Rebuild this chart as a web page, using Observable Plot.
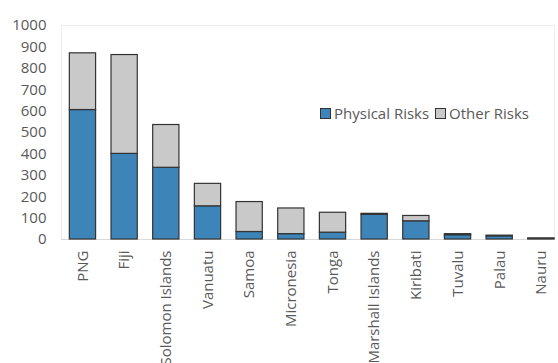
<!DOCTYPE html>
<html>
<head>
<meta charset="utf-8">
<script src="https://cdn.jsdelivr.net/npm/d3@7"></script>
<script src="https://cdn.jsdelivr.net/npm/@observablehq/plot@0.6"></script>
<style>
  html, body { margin: 0; padding: 0; background: #fff; }
  #chart { position: relative; width: 558px; height: 363px; overflow: hidden; font-family: "Open Sans", sans-serif; }
  #chart svg { display: block; }
  .legend { position: absolute; left: 320px; top: 103px; display: flex; align-items: center; font-size: 15px; color: #595959; white-space: nowrap; }
  .legend .sw { display: inline-block; width: 9px; height: 9px; border: 1px solid #333; margin-right: 3px; }
  .legend .item { display: flex; align-items: center; margin-right: 6px; }
</style>
</head>
<body>
<div id="chart"></div>
<script>
// Countries, ordered as on the axis
const countries = ["PNG", "Fiji", "Solomon Islands", "Vanuatu", "Samoa", "Micronesia",
  "Tonga", "Marshall Islands", "Kiribati", "Tuvalu", "Palau", "Nauru"];
// Stacked series
const physicalRisks = [605, 400, 335, 155, 35, 25, 32, 115, 85, 20, 15, 3];
const otherRisks = [265, 462, 200, 105, 140, 120, 93, 5, 25, 5, 3, 2];
const seriesNames = ["Physical Risks", "Other Risks"];
const seriesColors = ["#3d85b8", "#c9c9c9"];
const yTicks = [0, 100, 200, 300, 400, 500, 600, 700, 800, 900, 1000];

const rows = [];
countries.forEach((c, i) => {
  rows.push({country: c, series: seriesNames[0], value: physicalRisks[i]});
  rows.push({country: c, series: seriesNames[1], value: otherRisks[i]});
});

const chart = Plot.plot({
  width: 558,
  height: 363,
  marginLeft: 61,
  marginRight: 4,
  marginTop: 25,
  marginBottom: 124,
  style: {fontFamily: "'Open Sans', sans-serif", fontSize: "15px", color: "#595959", background: "#fff"},
  x: {domain: countries, paddingInner: 0.37, paddingOuter: 0.1, align: 1, round: false, label: null},
  y: {domain: [0, 1000], label: null},
  color: {domain: seriesNames, range: seriesColors},
  marks: [
    Plot.frame({stroke: "#ececec"}),
    Plot.axisY({ticks: yTicks, tickFormat: d3.format("d"), tickSize: 0, tickPadding: 15, label: null, fill: "#595959"}),
    Plot.axisX({tickSize: 0, tickPadding: 11, tickRotate: -90, label: null, fill: "#595959"}),
    Plot.ruleY([0], {stroke: "#d9d9d9"}),
    Plot.barY(rows, Plot.stackY({
      x: "country", y: "value", fill: "series", order: seriesNames,
      stroke: "#333", strokeWidth: 1.2
    }))
  ]
});

const host = document.getElementById("chart");
host.appendChild(chart);

// Legend drawn inside the plot area
const legend = document.createElement("div");
legend.className = "legend";
seriesNames.forEach((name, i) => {
  const item = document.createElement("span");
  item.className = "item";
  const sw = document.createElement("span");
  sw.className = "sw";
  sw.style.background = seriesColors[i];
  item.appendChild(sw);
  item.appendChild(document.createTextNode(name));
  legend.appendChild(item);
});
host.appendChild(legend);
</script>
</body>
</html>
